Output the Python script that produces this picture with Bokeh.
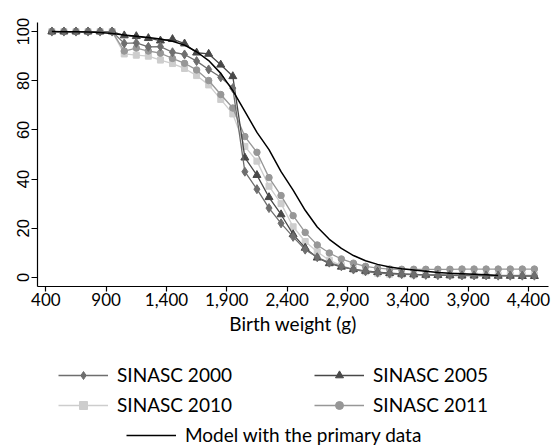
from bokeh.plotting import figure
from bokeh.layouts import column
from bokeh.models import FixedTicker, NumeralTickFormatter, Legend, LegendItem, Range1d
from bokeh.embed import file_html
from bokeh.resources import INLINE

# ---------------- data ----------------
weights = [450, 550, 650, 750, 850, 950, 1050, 1150, 1250, 1350, 1450, 1550, 1650,
           1750, 1850, 1950, 2050, 2150, 2250, 2350, 2450, 2550, 2650, 2750, 2850,
           2950, 3050, 3150, 3250, 3350, 3450, 3550, 3650, 3750, 3850, 3950, 4050,
           4150, 4250, 4350, 4450]

sinasc_2000 = [100, 100, 100, 100, 100, 100, 95.2, 95.4, 93.8, 93.9, 91.6, 90.7, 88.0,
               84.6, 81.4, 77.0, 43.0, 35.9, 28.2, 22.0, 16.5, 11.3, 8.2, 6.0, 4.5,
               3.2, 2.5, 1.9, 1.5, 1.3, 1.1, 1.0, 0.9, 0.9, 0.8, 0.8, 0.8,
               0.7, 0.7, 0.7, 0.7]

sinasc_2005 = [100, 100, 100, 100, 100, 100, 98.4, 98.1, 97.3, 96.3, 96.9, 95.1, 91.4,
               90.9, 86.5, 81.8, 48.7, 41.6, 32.6, 25.6, 17.5, 12.0, 8.0, 5.7, 4.3,
               3.3, 2.6, 2.1, 1.7, 1.4, 1.2, 1.0, 0.9, 0.8, 0.7, 0.7, 0.6,
               0.6, 0.6, 0.5, 0.5]

sinasc_2010 = [100, 100, 100, 100, 100, 100, 90.9, 90.4, 90.0, 88.4, 87.0, 85.0, 82.1,
               78.3, 72.4, 66.5, 53.3, 47.3, 37.1, 30.0, 20.6, 14.6, 10.4, 7.0, 4.8,
               3.3, 2.3, 1.7, 1.3, 1.1, 1.0, 1.0, 1.0, 0.9, 0.9, 0.9, 0.9,
               0.9, 0.9, 0.9, 0.9]

sinasc_2011 = [100, 100, 100, 100, 100, 100, 92.1, 93.3, 92.1, 91.2, 89.1, 87.1, 84.4,
               80.1, 74.4, 68.9, 57.3, 50.9, 40.6, 33.3, 25.1, 18.3, 13.2, 9.9, 7.5,
               5.8, 4.5, 3.8, 3.4, 3.3, 3.3, 3.3, 3.3, 3.3, 3.4, 3.4, 3.4,
               3.4, 3.4, 3.4, 3.4]

model_weights = [450, 550, 650, 750, 850, 950, 1050, 1150, 1250, 1350, 1450, 1550, 1650,
                 1750, 1850, 1950, 2050, 2150, 2250, 2350, 2450, 2550, 2650, 2750, 2850,
                 2950, 3050, 3150, 3250, 3350, 3450, 3550, 3650, 3750, 3850, 3950, 4050,
                 4150]
model = [100.0, 99.9, 99.9, 99.8, 99.6, 99.2, 98.6, 98.1, 97.6, 97.0, 96.1, 94.5, 91.8,
         88.2, 83.0, 76.0, 67.5, 59.0, 52.0, 43.0, 35.5, 27.3, 20.5, 15.5, 11.8,
         8.9, 6.8, 5.3, 4.2, 3.5, 3.0, 2.5, 2.0, 1.7, 1.5, 1.3, 1.1,
         0.8]

x_ticks = [400, 900, 1400, 1900, 2400, 2900, 3400, 3900, 4400]
y_ticks = [0, 20, 40, 60, 80, 100]

series_labels = ["SINASC 2000", "SINASC 2005", "SINASC 2010", "SINASC 2011"]
model_label = "Model with the primary data"
x_title = "Birth weight (g)"

# ---------------- styles ----------------
TEXT_FONT = "Lato"
c2000, c2005, c2010, c2011 = "#6e6e6e", "#484848", "#cdcdcd", "#979797"
styles = [
    (series_labels[0], sinasc_2000, c2000, "diamond", 9),
    (series_labels[1], sinasc_2005, c2005, "triangle", 8),
    (series_labels[2], sinasc_2010, c2010, "square", 6),
    (series_labels[3], sinasc_2011, c2011, "circle", 6.5),
]
draw_order = [2, 3, 1, 0]

X_RANGE = (331, 4567)
Y_RANGE = (-3.7, 103.7)

# ---------------- main figure ----------------
TOP_H = 340
p = figure(width=556, height=TOP_H, frame_width=511, frame_height=264,
           output_backend="svg", toolbar_location=None,
           x_range=Range1d(*X_RANGE), y_range=Range1d(*Y_RANGE),
           min_border_left=37, min_border_right=8, min_border_top=22,
           min_border_bottom=TOP_H - 286)
p.outline_line_color = None
p.grid.visible = False
p.background_fill_color = "white"
p.border_fill_color = "white"

p.xaxis.ticker = FixedTicker(ticks=x_ticks)
p.xaxis.formatter = NumeralTickFormatter(format="0,0")
p.yaxis.ticker = FixedTicker(ticks=y_ticks)
for ax in (p.xaxis[0], p.yaxis[0]):
    ax.axis_line_color = "black"
    ax.axis_line_width = 1.2
    ax.major_tick_line_color = "black"
    ax.major_tick_line_width = 1.2
    ax.minor_tick_line_color = None
    ax.major_tick_in = 0
    ax.major_label_text_color = "black"

p.xaxis.major_tick_out = 5
p.xaxis.major_label_standoff = 1
p.xaxis.major_label_text_font = TEXT_FONT
p.xaxis.major_label_text_font_size = "17px"
p.xaxis.axis_label = x_title
p.xaxis.axis_label_text_font = TEXT_FONT
p.xaxis.axis_label_text_font_style = "normal"
p.xaxis.axis_label_text_font_size = "19px"
p.xaxis.axis_label_standoff = 3
p.xaxis.axis_label_text_color = "black"

p.yaxis.major_tick_out = 6
p.yaxis.major_label_standoff = 2
p.yaxis.major_label_orientation = "parallel"
p.yaxis.major_label_text_font = "Liberation Sans"
p.yaxis.major_label_text_font_size = "16.5px"

for i in draw_order:
    _, vals, col, mk, sz = styles[i]
    p.line(weights, vals, line_color=col, line_width=1.3)
    p.scatter(weights, vals, marker=mk, size=sz, color=col)
p.line(model_weights, model, line_color="black", line_width=1.5)

# ---------------- legend strip (key glyphs only) ----------------
# The strip uses a unit range; its key renderers carry the first datum of
# each series, which lies outside that range, so only the legend keys show.
BOT_H = 448 - TOP_H
q = figure(width=556, height=BOT_H, output_backend="svg", toolbar_location=None,
           x_axis_location=None, y_axis_location=None,
           x_range=Range1d(0, 1), y_range=Range1d(0, 1),
           min_border_left=0, min_border_right=0, min_border_top=0, min_border_bottom=0)
q.outline_line_color = None
q.grid.visible = False
q.background_fill_color = "white"
q.border_fill_color = "white"

key_renderers = []
for i in range(4):
    _, vals, col, mk, sz = styles[i]
    kl = q.line([weights[0]], [vals[0]], line_color=col, line_width=1.3)
    ks = q.scatter([weights[0]], [vals[0]], marker=mk, size=sz, color=col)
    key_renderers.append([kl, ks])
key_model = q.line([model_weights[0]], [model[0]], line_color="black", line_width=1.5)

FRAME_OFFSET = 37   # strip frame is aligned with the main frame
ITEM_H = 20
def add_key(label, renderers, x_abs, y_center_abs):
    yl = y_center_abs - TOP_H
    top = yl - ITEM_H / 2
    loc_y = BOT_H - ITEM_H - top
    lg = Legend(items=[LegendItem(label=label, renderers=renderers)],
                location=(x_abs - FRAME_OFFSET, loc_y))
    lg.glyph_width = 50
    lg.glyph_height = ITEM_H
    lg.label_standoff = 9
    lg.label_height = ITEM_H
    lg.padding = 0
    lg.margin = 0
    lg.spacing = 0
    lg.border_line_color = None
    lg.background_fill_alpha = 0
    lg.label_text_font = TEXT_FONT
    lg.label_text_font_size = "19px"
    lg.label_text_color = "black"
    q.add_layout(lg, "center")

add_key(series_labels[0], key_renderers[0], 58, 376)
add_key(series_labels[1], key_renderers[1], 314, 376)
add_key(series_labels[2], key_renderers[2], 58, 406)
add_key(series_labels[3], key_renderers[3], 314, 406)
add_key(model_label, [key_model], 126, 436)

layout = column(p, q, spacing=0)
open("out.html", "w").write(file_html(layout, INLINE))
